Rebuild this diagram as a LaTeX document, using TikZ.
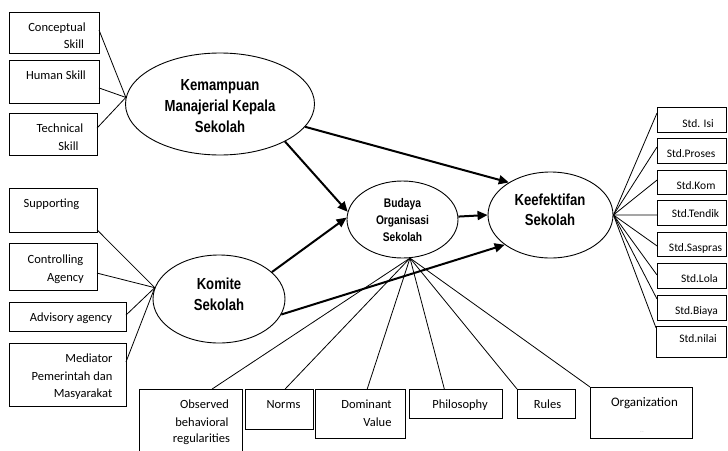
\documentclass[tikz,border=0pt]{standalone}
\usepackage{fontspec}
\setmainfont{Carlito}
\newfontfamily\ellfont[FakeStretch=0.82]{Liberation Sans}
\usetikzlibrary{shapes.geometric,arrows.meta,calc}
\begin{document}
\begin{tikzpicture}[x=1pt,y=-1pt,
  box/.style={draw,line width=0.9pt,inner sep=0pt,outer sep=0pt},
  ell/.style={draw,ellipse,line width=0.9pt,inner sep=0pt},
  txt/.style={inner sep=0pt,anchor=base,font=\fontsize{12.5}{15}\selectfont},
  stdt/.style={inner sep=0pt,anchor=base,font=\fontsize{11.5}{14}\selectfont},
  elt/.style={inner sep=0pt,align=center,font=\ellfont\bfseries\fontsize{16}{21}\selectfont},
  ln/.style={line width=0.8pt},
  arr/.style={line width=2pt,-{Triangle[length=10pt,width=9pt]}}]
\useasboundingbox (0,0) rectangle (728,450);

% ellipses
\node[ell,minimum width=189pt,minimum height=102pt] (kmks) at (220,104) {};
\node[ell,minimum width=132pt,minimum height=88pt] (komite) at (219,299) {};
\node[ell,minimum width=111pt,minimum height=77pt] (bud) at (402.5,219.5) {};
\node[ell,minimum width=125pt,minimum height=86pt] (keef) at (550.5,215) {};
\node[elt] (kmkst) at (220,106) {Kemampuan\\Manajerial Kepala\\Sekolah};
\node[elt] (komitet) at (219,294) {Komite\\Sekolah};
\node[elt,font=\ellfont\bfseries\fontsize{16}{19.5}\selectfont] (keeft) at (550,210) {Keefektifan\\Sekolah};
\node[elt,font=\ellfont\bfseries\fontsize{12.5}{17}\selectfont] (budt) at (402.5,220) {Budaya\\Organisasi\\Sekolah};

% left boxes
\node[box,minimum width=90pt,minimum height=41pt] (cs) at (54,32.5) {};
\node[box,minimum width=90pt,minimum height=43pt] (hs) at (54,81.5) {};
\node[box,minimum width=88pt,minimum height=42pt] (ts) at (53,134) {};
\node[box,minimum width=88pt,minimum height=44pt] (sup) at (53,210) {};
\node[box,minimum width=88pt,minimum height=47pt] (ca) at (53,266.5) {};
\node[box,minimum width=117pt,minimum height=29pt] (aa) at (67.5,316.5) {};
\node[box,minimum width=117pt,minimum height=63pt] (med) at (67.5,374.5) {};

\node[txt] (cs1) at (57,31) {Conceptual};
\node[txt] (cs2) at (74,48) {Skill};
\node[txt] (hs1) at (56,79) {Human Skill};
\node[txt] (ts1) at (60,132) {Technical};
\node[txt] (ts2) at (68.5,150) {Skill};
\node[txt] (sup1) at (51.5,207) {Supporting};
\node[txt] (ca1) at (55.5,263) {Controlling};
\node[txt] (ca2) at (65.5,281) {Agency};
\node[txt] (aa1) at (71,321) {Advisory agency};
\node[txt] (med1) at (89,362) {Mediator};
\node[txt] (med2) at (72,380) {Pemerintah dan};
\node[txt] (med3) at (83,397) {Masyarakat};

% bottom boxes
\node[box,minimum width=103pt,minimum height=63pt] (obs) at (190.5,420.5) {};
\node[box,minimum width=68pt,minimum height=40pt] (nor) at (279,409) {};
\node[box,minimum width=90pt,minimum height=49pt] (dom) at (360,413.5) {};
\node[box,minimum width=93pt,minimum height=29pt] (phi) at (455.5,403.5) {};
\node[box,minimum width=58pt,minimum height=29pt] (rul) at (546,403.5) {};
\node[box,minimum width=102pt,minimum height=51pt] (org) at (641,412.5) {};

\node[txt] (obs1) at (204.5,408) {Observed};
\node[txt] (obs2) at (202,426) {behavioral};
\node[txt] (obs3) at (201.5,442) {regularities};
\node[txt] (nor1) at (283.5,408) {Norms};
\node[txt] (dom1) at (366.5,408) {Dominant};
\node[txt] (dom2) at (377.5,426) {Value};
\node[txt] (phi1) at (460,408) {Philosophy};
\node[txt] (rul1) at (547.5,408) {Rules};
\node[txt,font=\fontsize{13}{15}\selectfont] (org1) at (644.5,406.5) {Organization};
\node[inner sep=0pt,text=gray,font=\fontsize{4}{5}\selectfont] (orgdots) at (642,432) {...};

% right boxes
\node[box,minimum width=69.5pt,minimum height=25pt] (isi) at (691.75,119.5) {};
\node[box,minimum width=69.5pt,minimum height=25pt] (pro) at (691.75,150.5) {};
\node[box,minimum width=69.5pt,minimum height=24pt] (skom) at (691.75,182) {};
\node[box,minimum width=69.5pt,minimum height=25pt] (ten) at (691.75,212.5) {};
\node[box,minimum width=69.5pt,minimum height=24pt] (sas) at (691.75,244) {};
\node[box,minimum width=69.5pt,minimum height=25pt] (lol) at (691.75,275.5) {};
\node[box,minimum width=69.5pt,minimum height=25pt] (bia) at (691.75,307.5) {};
\node[box,minimum width=70.5pt,minimum height=31pt] (nil) at (691.25,341.5) {};

\node[stdt] (isi1) at (698,127) {Std. Isi};
\node[stdt] (pro1) at (691,157) {Std.Proses};
\node[stdt] (skom1) at (696,189) {Std.Kom};
\node[stdt] (ten1) at (695.5,217) {Std.Tendik};
\node[stdt] (sas1) at (695.5,251) {Std.Saspras};
\node[stdt] (lol1) at (699.5,282) {Std.Lola};
\node[stdt] (bia1) at (696.5,314) {Std.Biaya};
\node[stdt] (nil1) at (698,342) {Std.nilai};

% thin connectors: left
\draw[ln] ($(cs.north east)!0.44!(cs.south east)$) -- (kmks.176);
\draw[ln] ($(hs.north east)!0.65!(hs.south east)$) -- (kmks.176);
\draw[ln] ($(ts.north east)!0.36!(ts.south east)$) -- (kmks.176);
\draw[ln] ($(sup.north east)!0.95!(sup.south east)$) -- (komite.170);
\draw[ln] ($(ca.north east)!0.64!(ca.south east)$) -- (komite.170);
\draw[ln] ($(aa.north east)!0.45!(aa.south east)$) -- (komite.170);
\draw[ln] ($(med.north east)!0.3!(med.south east)$) -- (komite.170);

% thin connectors: right
\draw[ln] (keef.east) -- ($(isi.north west)!0.24!(isi.south west)$);
\draw[ln] (keef.east) -- ($(pro.north west)!0.36!(pro.south west)$);
\draw[ln] (keef.east) -- ($(skom.north west)!0.42!(skom.south west)$);
\draw[ln] (keef.east) -- ($(ten.north west)!0.6!(ten.south west)$);
\draw[ln] (keef.east) -- ($(sas.north west)!0.58!(sas.south west)$);
\draw[ln] (keef.east) -- ($(lol.north west)!0.48!(lol.south west)$);
\draw[ln] (keef.east) -- ($(bia.north west)!0.16!(bia.south west)$);
\draw[ln] (keef.east) -- ($(nil.north west)!0.06!(nil.south west)$);

% thin connectors: bottom
\draw[ln] (bud.-79) -- ($(obs.north west)!0.71!(obs.north east)$);
\draw[ln] (bud.-79) -- ($(nor.north west)!0.59!(nor.north east)$);
\draw[ln] (bud.-79) -- ($(dom.north west)!0.58!(dom.north east)$);
\draw[ln] (bud.-79) -- ($(phi.north west)!0.38!(phi.north east)$);
\draw[ln] (bud.-79) -- (rul.north west);
\draw[ln] (bud.-79) -- (org.north west);

% arrows
\draw[arr] (kmks.-15) -- (keef.142);
\draw[arr] (kmks.-30) -- (bud.172);
\draw[arr] (komite.27) -- (bud.178);
\draw[arr] (komite.-14) -- (keef.213);
\draw[arr] (bud.3) -- (keef.west);
\end{tikzpicture}
\end{document}
